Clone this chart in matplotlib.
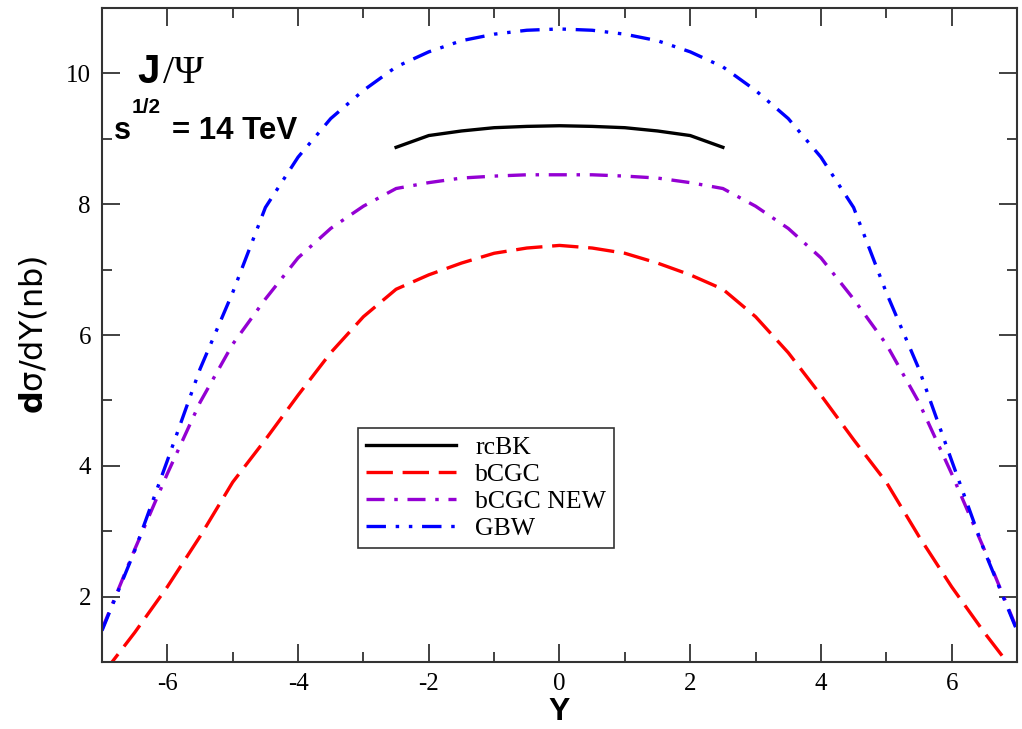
import matplotlib
matplotlib.use("Agg")
import matplotlib.pyplot as plt
from matplotlib.ticker import MultipleLocator

plt.rcParams['lines.scale_dashes'] = False
plt.rcParams['axes.unicode_minus'] = False

# Rapidity grid (left half, mirrored for the right half)
y_half = [-7.0, -6.5, -6.0, -5.5, -5.0, -4.5, -4.0, -3.5, -3.0, -2.5, -2.0, -1.5, -1.0, -0.5, 0.0]

gbw_half = [1.48, 2.70, 4.08, 5.48, 6.65, 7.95, 8.72, 9.31, 9.74, 10.10, 10.33, 10.50, 10.60, 10.66, 10.68]
bcgc_new_half = [1.50, 2.72, 3.88, 4.97, 5.86, 6.55, 7.18, 7.63, 7.97, 8.24, 8.33, 8.40, 8.43, 8.45, 8.45]
bcgc_half = [0.80, 1.45, 2.15, 2.92, 3.75, 4.40, 5.08, 5.73, 6.28, 6.70, 6.92, 7.10, 7.25, 7.33, 7.37]

rcbk_y_half = [-2.5, -2.0, -1.5, -1.0, -0.5, 0.0]
rcbk_half = [8.87, 9.05, 9.12, 9.17, 9.19, 9.20]


def mirror(xs, vs):
    x = list(xs) + [-v for v in reversed(xs[:-1])]
    v = list(vs) + list(reversed(vs[:-1]))
    return x, v


y_full, gbw = mirror(y_half, gbw_half)
_, bcgc_new = mirror(y_half, bcgc_new_half)
_, bcgc = mirror(y_half, bcgc_half)
y_rcbk, rcbk = mirror(rcbk_y_half, rcbk_half)

labels = ["rcBK", "bCGC", "bCGC NEW", "GBW"]

fig = plt.figure(figsize=(10.22, 7.29), dpi=100)
ax = fig.add_axes([0.0998, 0.0919, 0.8953, 0.8971])

lw = 2.4
ax.plot(y_rcbk, rcbk, color='black', lw=lw, label=labels[0])
ax.plot(y_full, bcgc, color='#ff0000', lw=lw, dashes=(19, 7), label=labels[1])
ax.plot(y_full, bcgc_new, color='#9400d3', lw=lw, dashes=(13, 7, 2.5, 7), label=labels[2])
ax.plot(y_full, gbw, color='#0000ff', lw=lw, dashes=(14, 7, 2.5, 7, 2.5, 7), label=labels[3])

ax.set_xlim(-7, 7)
ax.set_ylim(1, 11)
ax.xaxis.set_major_locator(MultipleLocator(2))
ax.xaxis.set_minor_locator(MultipleLocator(1))
ax.yaxis.set_major_locator(MultipleLocator(2))
ax.yaxis.set_minor_locator(MultipleLocator(1))
ax.tick_params(which='both', direction='in', top=True, right=True, width=1.3, color='#333333')
ax.tick_params(which='major', length=13)
ax.tick_params(which='minor', length=7)
ax.tick_params(axis='y', which='major', labelsize=18, pad=8)
ax.tick_params(axis='x', which='major', labelsize=18, pad=8)
for lab in ax.get_xticklabels() + ax.get_yticklabels():
    lab.set_fontfamily('Liberation Serif')
for sp in ax.spines.values():
    sp.set_linewidth(1.5)
    sp.set_color('#333333')

ax.set_xlabel('Y', fontsize=23, fontweight='bold', fontfamily='Liberation Sans', labelpad=1)
ax.set_ylabel(r'$\mathbf{d}$σ/dY(nb)', fontsize=23, fontfamily='DejaVu Sans', labelpad=12)

# J/Psi label
ax.text(0.039, 0.885, 'J', transform=ax.transAxes, fontsize=29, fontweight='bold',
        fontfamily='Liberation Sans', va='baseline')
ax.text(0.067, 0.885, '/Ψ', transform=ax.transAxes, fontsize=29,
        fontfamily='Liberation Serif', va='baseline')
# sqrt(s) label
ax.text(0.013, 0.8, 's', transform=ax.transAxes, fontsize=22,
        fontweight='bold', fontfamily='Liberation Sans', va='baseline')
ax.text(0.032, 0.84, '1/2', transform=ax.transAxes, fontsize=15,
        fontweight='bold', fontfamily='Liberation Sans', va='baseline')
ax.text(0.076, 0.8, '= 14 TeV', transform=ax.transAxes, fontsize=22.5,
        fontweight='bold', fontfamily='Liberation Sans', va='baseline')

leg = ax.legend(loc='upper left', bbox_to_anchor=(0.28, 0.358),
                prop={'family': 'Liberation Serif', 'size': 18.5}, frameon=True, fancybox=False,
                edgecolor='black', handlelength=3.5, borderpad=0.3, labelspacing=0.16,
                handletextpad=0.75, borderaxespad=0)
leg.get_frame().set_linewidth(1.2)

fig.savefig('out.png', dpi=100)
